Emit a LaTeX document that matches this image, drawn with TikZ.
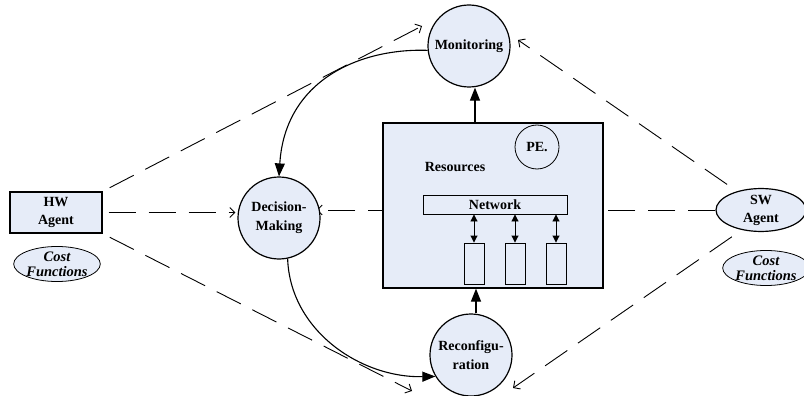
\documentclass[tikz,border=0pt]{standalone}
\usepackage{fontspec}
\setmainfont{Liberation Serif}
\usetikzlibrary{arrows.meta,shapes.geometric}
\definecolor{fillblue}{RGB}{230,236,248}
\pgfdeclarelayer{bg}
\pgfsetlayers{bg,main}
\begin{document}
\begin{tikzpicture}[x=1pt,y=-1pt,
  lbl/.style={font=\fontsize{14}{19}\selectfont\bfseries, align=center},
  cost/.style={ellipse, draw, line width=0.8pt, fill=fillblue, inner sep=0pt,
    font=\fontsize{14.5}{15}\selectfont\bfseries\itshape, align=center},
  proc/.style={circle, draw, line width=1.2pt, fill=fillblue, minimum size=82pt, inner sep=0pt, lbl},
  dsh/.style={line width=0.9pt, dash pattern=on 27pt off 13pt, -{Straight Barb[length=5pt,width=10pt]}},
  sol/.style={line width=1.1pt, -{Triangle[length=13pt,width=10pt]}},
  dbl/.style={line width=0.9pt, {Triangle[length=7pt,width=7pt]}-{Triangle[length=7pt,width=7pt]}},
  unit/.style={draw, line width=0.9pt, minimum width=20pt, minimum height=41pt, inner sep=0pt}
]
\useasboundingbox (0,0) rectangle (804,396);

% main nodes
\node[proc] (mon) at (469,46) {Monitoring};
\node[proc] (dm) at (279,218) {Decision-\\Making};
\node[proc] (rec) at (471,355) {Reconfigu-\\ration};
\node[draw, line width=1.2pt, fill=fillblue, minimum width=220pt, minimum height=165pt, inner sep=0pt] (res) at (493,205.5) {};
\node[lbl] (restxt) at (455,167) {Resources};
\node[circle, draw, line width=0.8pt, minimum size=44pt, inner sep=0pt, lbl] (pe) at (537,147) {PE.};
\node[draw, line width=0.9pt, minimum width=144pt, minimum height=19pt, inner sep=0pt, lbl] (net) at (495,204.5) {Network};
\node[unit] (b1) at (474,263.5) {};
\node[unit] (b2) at (515,263.5) {};
\node[unit] (b3) at (556,263.5) {};

\node[draw, line width=1.2pt, fill=fillblue, minimum width=92pt, minimum height=41pt, inner sep=0pt, lbl,
  font=\fontsize{14}{18}\selectfont\bfseries] (hw) at (56,212.5) {HW\\Agent};
\node[cost, minimum width=78pt, minimum height=34pt] (hwcost) at (57,264) {Cost\\Functions};
\node[ellipse, draw, line width=1.2pt, fill=fillblue, minimum width=90pt, minimum height=42pt, inner sep=0pt, lbl,
  font=\fontsize{14}{18}\selectfont\bfseries] (sw) at (761,210) {SW\\Agent};
\node[cost, minimum width=74pt, minimum height=30pt] (swcost) at (766,268) {Cost\\Functions};

% free tips of dashed connectors
\coordinate (tmonL) at (422,26);
\coordinate (trecL) at (412,391);
\coordinate (tmonR) at (518,40);
\coordinate (trecR) at (513,388);

% internal double arrows
\draw[dbl] (net.south -| b1) -- (b1.north);
\draw[dbl] (net.south -| b2) -- (b2.north);
\draw[dbl] (net.south -| b3) -- (b3.north);

% solid connectors
\draw[sol] ([xshift=6pt]mon.south |- res.north) -- ([xshift=6pt]mon.south);
\draw[sol] ([xshift=5pt]rec.north) -- ([xshift=5pt]rec.north |- res.south);
\draw[sol] (mon.186) .. controls (360,48) and (285,80) .. (dm.north);
\draw[sol] (dm.-78) .. controls (290,330) and (360,378) .. (rec.211);

% dashed connectors
\draw[dsh, shorten <=8pt] (hw.north east) -- (tmonL);
\draw[dsh, shorten <=6pt, shorten >=2pt] (hw.east) -- (hw.east -| dm.west);
\draw[dsh, shorten <=8pt] (hw.south east) -- (trecL);
\draw[dsh, shorten <=12pt] (sw.142) -- (tmonR);
\draw[dsh, shorten <=12pt] (sw.226) -- (trecR);
\begin{pgfonlayer}{bg}
\draw[dsh, shorten >=-4pt] (sw.west) -- (sw.west -| dm.east);
\end{pgfonlayer}
\end{tikzpicture}
\end{document}
